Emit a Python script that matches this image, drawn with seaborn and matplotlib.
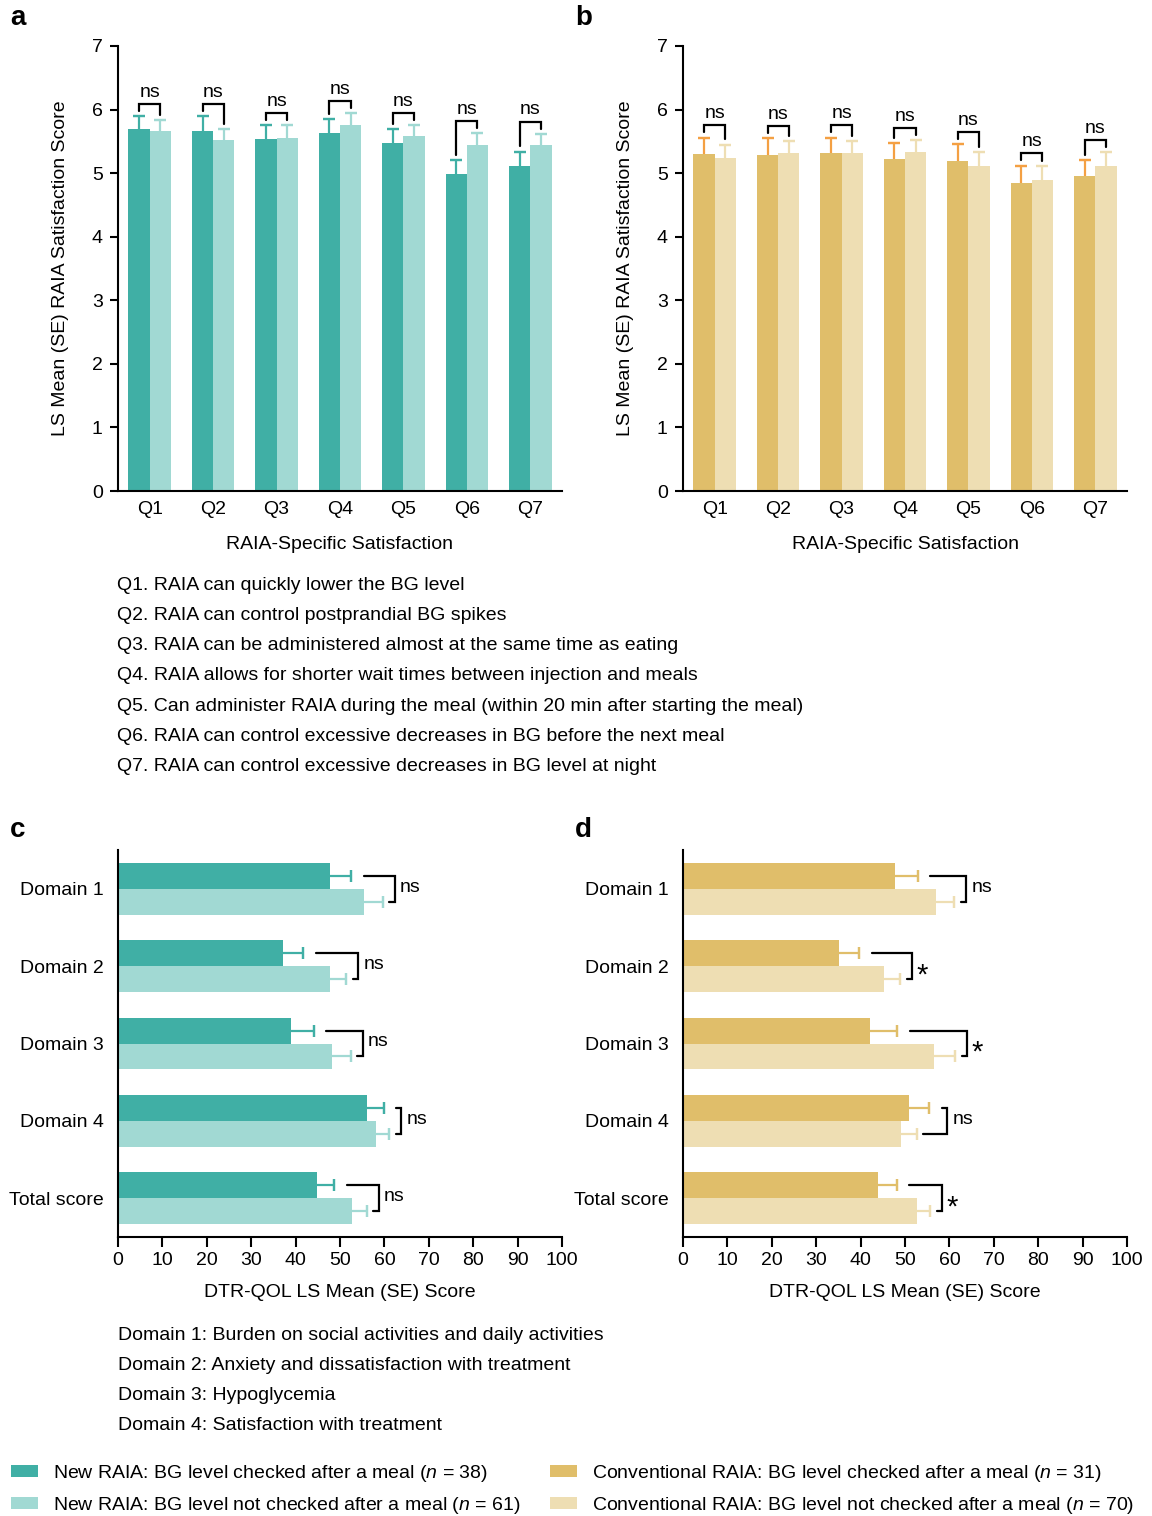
import matplotlib
matplotlib.use("Agg")
import numpy as np
import pandas as pd
import matplotlib.pyplot as plt
from matplotlib.patches import Patch
import seaborn as sns

# ---------------------------------------------------------------- data
questions = ["Q1", "Q2", "Q3", "Q4", "Q5", "Q6", "Q7"]

new_checked_mean = [5.69, 5.67, 5.53, 5.63, 5.47, 4.99, 5.12]
new_checked_se = [0.21, 0.23, 0.22, 0.22, 0.22, 0.22, 0.22]
new_unchecked_mean = [5.67, 5.52, 5.56, 5.75, 5.58, 5.45, 5.45]
new_unchecked_se = [0.17, 0.17, 0.19, 0.19, 0.18, 0.18, 0.17]

conv_checked_mean = [5.30, 5.28, 5.31, 5.22, 5.19, 4.84, 4.96]
conv_checked_se = [0.26, 0.27, 0.25, 0.25, 0.27, 0.28, 0.25]
conv_unchecked_mean = [5.24, 5.31, 5.31, 5.33, 5.12, 4.89, 5.12]
conv_unchecked_se = [0.21, 0.20, 0.20, 0.19, 0.21, 0.22, 0.21]

sat_sig_new = ["ns", "ns", "ns", "ns", "ns", "ns", "ns"]
sat_sig_conv = ["ns", "ns", "ns", "ns", "ns", "ns", "ns"]

domains = ["Domain 1", "Domain 2", "Domain 3", "Domain 4", "Total score"]

qol_new_checked_mean = [47.8, 37.2, 39.0, 56.0, 44.8]
qol_new_checked_se = [4.7, 4.5, 5.1, 3.8, 3.9]
qol_new_unchecked_mean = [55.5, 47.7, 48.2, 58.0, 52.6]
qol_new_unchecked_se = [4.1, 3.7, 4.2, 3.1, 3.4]

qol_conv_checked_mean = [47.7, 35.2, 42.2, 50.9, 44.0]
qol_conv_checked_se = [5.2, 4.5, 6.1, 4.6, 4.1]
qol_conv_unchecked_mean = [57.0, 45.2, 56.6, 49.0, 52.6]
qol_conv_unchecked_se = [4.1, 3.7, 4.7, 3.6, 3.1]

qol_sig_new = ["ns", "ns", "ns", "ns", "ns"]
qol_sig_conv = ["ns", "*", "*", "ns", "*"]

group_labels = [
    r"New RAIA: BG level checked after a meal ($\it{n}$ = 38)",
    r"New RAIA: BG level not checked after a meal ($\it{n}$ = 61)",
    r"Conventional RAIA: BG level checked after a meal ($\it{n}$ = 31)",
    r"Conventional RAIA: BG level not checked after a meal ($\it{n}$ = 70)",
]

question_notes = [
    "Q1. RAIA can quickly lower the BG level",
    "Q2. RAIA can control postprandial BG spikes",
    "Q3. RAIA can be administered almost at the same time as eating",
    "Q4. RAIA allows for shorter wait times between injection and meals",
    "Q5. Can administer RAIA during the meal (within 20 min after starting the meal)",
    "Q6. RAIA can control excessive decreases in BG before the next meal",
    "Q7. RAIA can control excessive decreases in BG level at night",
]
domain_notes = [
    "Domain 1: Burden on social activities and daily activities",
    "Domain 2: Anxiety and dissatisfaction with treatment",
    "Domain 3: Hypoglycemia",
    "Domain 4: Satisfaction with treatment",
]

# ---------------------------------------------------------------- style
sns.set_theme(style="ticks")
FONT = ["Liberation Sans", "DejaVu Sans"]
plt.rcParams["font.family"] = FONT
plt.rcParams["mathtext.fontset"] = "custom"
plt.rcParams["mathtext.rm"] = "Liberation Sans"
plt.rcParams["mathtext.it"] = "Liberation Sans:italic"
for key in ("text.color", "axes.labelcolor", "xtick.color", "ytick.color",
            "axes.edgecolor"):
    plt.rcParams[key] = "black"
FS = 14

TEAL_DARK = "#40AFA5"
TEAL_LIGHT = "#A1D9D3"
GOLD_DARK = "#E0BE6A"
GOLD_LIGHT = "#EEDEB3"
ORANGE = "#F4A043"

W, H = 1152, 1516
fig = plt.figure(figsize=(W / 100, H / 100), dpi=100)


def px_axes(left, top, right, bottom):
    return fig.add_axes([left / W, 1 - bottom / H, (right - left) / W, (bottom - top) / H])


def style_axes(ax):
    sns.despine(ax=ax)
    for s in ("left", "bottom"):
        ax.spines[s].set_linewidth(1.5)
        ax.spines[s].set_color("black")
    ax.tick_params(labelsize=FS, colors="black", width=1.5, length=6)


def one_sided_err(ax, pos, ends, color, vertical=True, cap=4.0):
    """Whisker from the bar end outwards, with a cap only at the far end."""
    pos = np.asarray(pos)
    lo, hi = ends
    if vertical:
        ax.vlines(pos, lo, hi, color=color, lw=1.6, zorder=3)
        ax.errorbar(pos, hi, yerr=np.zeros(len(pos)), fmt="none", ecolor=color,
                    elinewidth=0, capsize=cap, capthick=1.6, zorder=3)
    else:
        ax.hlines(pos, lo, hi, color=color, lw=1.6, zorder=3)
        ax.errorbar(hi, pos, xerr=np.zeros(len(pos)), fmt="none", ecolor=color,
                    elinewidth=0, capsize=cap, capthick=1.6, zorder=3)


def vertical_panel(ax, m1, s1, m2, s2, sig, c1, c2, e1, e2):
    df = pd.DataFrame({
        "q": questions * 2,
        "mean": m1 + m2,
        "grp": ["checked"] * len(questions) + ["unchecked"] * len(questions),
    })
    sns.barplot(data=df, x="q", y="mean", hue="grp", palette=[c1, c2],
                width=0.67, errorbar=None, saturation=1, legend=False,
                linewidth=0, ax=ax)
    tops = []
    for cont, ses, ecol in zip(ax.containers, (s1, s2), (e1, e2)):
        xs = [b.get_x() + b.get_width() / 2 for b in cont]
        hs = np.array([b.get_height() for b in cont])
        hi = hs + np.asarray(ses)
        one_sided_err(ax, xs, (hs, hi), ecol, vertical=True, cap=4.0)
        tops.append((xs, hi))
    (x1, t1), (x2, t2) = tops
    for i, lab in enumerate(sig):
        l1, l2 = t1[i] + 0.08, t2[i] + 0.08
        top = max(l1, l2) + 0.11
        ax.plot([x1[i], x1[i], x2[i], x2[i]], [l1, top, top, l2],
                color="black", lw=1.6, solid_joinstyle="miter", zorder=4)
        ax.text((x1[i] + x2[i]) / 2, top + 0.05, lab, ha="center", va="bottom",
                fontsize=FS, color="black")
    ax.set_ylim(0, 7)
    ax.set_xlim(-0.5, 6.5)
    ax.set_yticks(range(8))
    style_axes(ax)
    ax.tick_params(axis="x", length=0, pad=7)
    ax.tick_params(axis="y", pad=5)
    ax.set_xlabel("RAIA-Specific Satisfaction", fontsize=FS, labelpad=13)
    ax.set_ylabel("LS Mean (SE) RAIA Satisfaction Score", fontsize=FS, labelpad=16)


def horizontal_panel(ax, m1, s1, m2, s2, sig, c1, c2, e1, e2):
    df = pd.DataFrame({
        "d": domains * 2,
        "mean": m1 + m2,
        "grp": ["checked"] * len(domains) + ["unchecked"] * len(domains),
    })
    sns.barplot(data=df, y="d", x="mean", hue="grp", palette=[c1, c2],
                orient="h", width=0.67, errorbar=None, saturation=1,
                legend=False, linewidth=0, ax=ax)
    ends = []
    for cont, ses, ecol in zip(ax.containers, (s1, s2), (e1, e2)):
        ys = [b.get_y() + b.get_height() / 2 for b in cont]
        ws = np.array([b.get_width() for b in cont])
        hi = ws + np.asarray(ses)
        one_sided_err(ax, ys, (ws, hi), ecol, vertical=False, cap=4.5)
        ends.append((ys, hi))
    (y1, r1), (y2, r2) = ends
    for i, lab in enumerate(sig):
        a, b = r1[i] + 2.8, r2[i] + 1.5
        v = max(a, b) + 1.2
        ax.plot([a, v, v, b], [y1[i], y1[i], y2[i], y2[i]],
                color="black", lw=1.6, solid_joinstyle="miter", zorder=4)
        if lab == "*":
            ax.text(v + 1.0, i + 0.12, lab, ha="left", va="center",
                    fontsize=FS + 7, color="black")
        else:
            ax.text(v + 1.2, i - 0.02, lab, ha="left", va="center",
                    fontsize=FS, color="black")
    ax.set_xlim(0, 100)
    ax.set_ylim(4.5, -0.5)
    ax.set_xticks(range(0, 101, 10))
    style_axes(ax)
    ax.tick_params(axis="y", length=0, pad=10)
    ax.tick_params(axis="x", length=7)
    ax.set_ylabel("")
    ax.set_xlabel("DTR-QOL LS Mean (SE) Score", fontsize=FS, labelpad=11)


ax_a = px_axes(118, 46, 562, 491)
vertical_panel(ax_a, new_checked_mean, new_checked_se, new_unchecked_mean,
               new_unchecked_se, sat_sig_new, TEAL_DARK, TEAL_LIGHT,
               TEAL_DARK, TEAL_LIGHT)

ax_b = px_axes(683, 46, 1127, 491)
vertical_panel(ax_b, conv_checked_mean, conv_checked_se, conv_unchecked_mean,
               conv_unchecked_se, sat_sig_conv, GOLD_DARK, GOLD_LIGHT,
               ORANGE, GOLD_LIGHT)

ax_c = px_axes(118, 850, 562, 1237)
horizontal_panel(ax_c, qol_new_checked_mean, qol_new_checked_se,
                 qol_new_unchecked_mean, qol_new_unchecked_se, qol_sig_new,
                 TEAL_DARK, TEAL_LIGHT, TEAL_DARK, TEAL_LIGHT)

ax_d = px_axes(683, 850, 1127, 1237)
horizontal_panel(ax_d, qol_conv_checked_mean, qol_conv_checked_se,
                 qol_conv_unchecked_mean, qol_conv_unchecked_se, qol_sig_conv,
                 GOLD_DARK, GOLD_LIGHT, GOLD_DARK, GOLD_LIGHT)

# panel letters
for letter, (x, y) in zip("abcd", [(10, 18), (575, 18), (10, 830), (575, 830)]):
    fig.text(x / W, 1 - y / H, letter, fontsize=20, fontweight="bold",
             va="center", ha="left")

# explanatory notes
for k, line in enumerate(question_notes):
    fig.text(117 / W, 1 - (585 + 30.3 * k) / H, line, fontsize=FS, va="center", ha="left")
for k, line in enumerate(domain_notes):
    fig.text(118 / W, 1 - (1335 + 30.2 * k) / H, line, fontsize=FS, va="center", ha="left")

# legend
handles = [Patch(facecolor=c, edgecolor="none") for c in
           (TEAL_DARK, TEAL_LIGHT, GOLD_DARK, GOLD_LIGHT)]
common = dict(frameon=False, fontsize=FS, handlelength=1.4, handleheight=0.6,
              handletextpad=0.75, labelspacing=0.55, borderpad=0, borderaxespad=0)
leg1 = fig.legend(handles[:2], group_labels[:2], loc="upper left",
                  bbox_to_anchor=(11 / W, 1 - 1463 / H), **common)
leg2 = fig.legend(handles[2:], group_labels[2:], loc="upper left",
                  bbox_to_anchor=(550 / W, 1 - 1463 / H), **common)

fig.savefig("out.png", dpi=100)
